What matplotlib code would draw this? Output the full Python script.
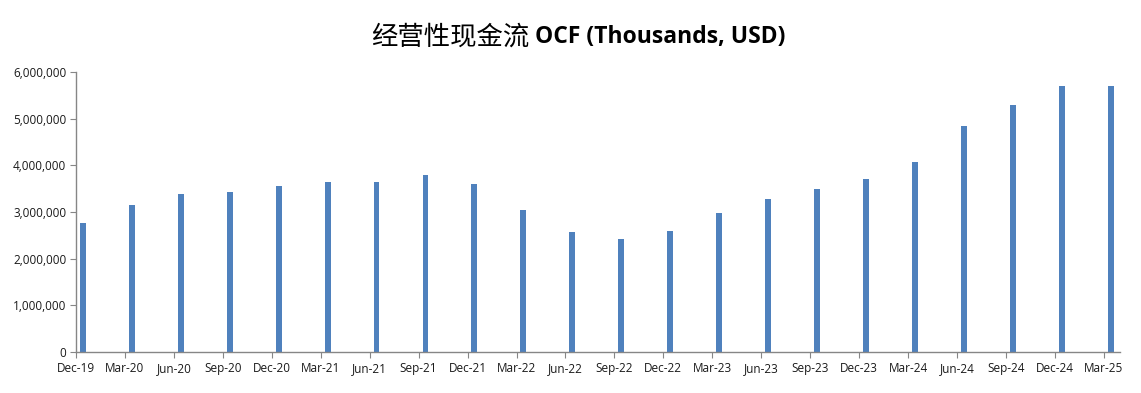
import matplotlib
matplotlib.use("Agg")
import matplotlib.pyplot as plt
import numpy as np
from matplotlib.ticker import FuncFormatter

# quarterly operating cash flow, thousands USD
quarters = ["Dec-19", "Mar-20", "Jun-20", "Sep-20", "Dec-20", "Mar-21",
            "Jun-21", "Sep-21", "Dec-21", "Mar-22", "Jun-22", "Sep-22",
            "Dec-22", "Mar-23", "Jun-23", "Sep-23", "Dec-23", "Mar-24",
            "Jun-24", "Sep-24", "Dec-24", "Mar-25"]
ocf = [2760000, 3150000, 3390000, 3430000, 3560000, 3640000,
       3640000, 3790000, 3600000, 3040000, 2570000, 2420000,
       2590000, 2980000, 3280000, 3490000, 3710000, 4070000,
       4840000, 5290000, 5700000, 5700000]
y_ticks = [0, 1000000, 2000000, 3000000, 4000000, 5000000, 6000000]

fig = plt.figure(figsize=(11.41, 3.93), dpi=100)
ax = fig.add_axes([0.0666, 0.1043, 0.9150, 0.7125])

x = np.arange(len(quarters))
# bars sit a little to the right of their date tick, like an Excel date axis
ax.bar(x + 0.14, ocf, width=0.12, color="#4F81BD", align="center")

ax.set_xlim(0, 21.33)
ax.set_ylim(0, 6000000)
ax.set_xticks(x)
ax.set_xticklabels(quarters)
ax.set_yticks(y_ticks)
ax.yaxis.set_major_formatter(FuncFormatter(lambda v, p: f"{int(v):,}"))

for side in ["top", "right"]:
    ax.spines[side].set_visible(False)
for side in ["left", "bottom"]:
    ax.spines[side].set_color("#868686")
    ax.spines[side].set_linewidth(1.0)
ax.tick_params(axis="both", direction="out", length=4, color="#868686",
               labelsize=8.5, labelcolor="#1a1a1a")
ax.tick_params(axis="y", pad=3)
for lab in ax.get_xticklabels() + ax.get_yticklabels():
    lab.set_family("Open Sans")

# title: Chinese part in regular weight, English part bold
fig.text(0.4640, 0.905, "经营性现金流", ha="right", va="center",
         fontsize=19, family=["Noto Sans CJK SC", "DejaVu Sans"])
fig.text(0.4690, 0.905, "OCF (Thousands, USD)", ha="left", va="center",
         fontsize=16.5, fontweight="bold", family="Open Sans")

plt.savefig("out.png", dpi=100)
